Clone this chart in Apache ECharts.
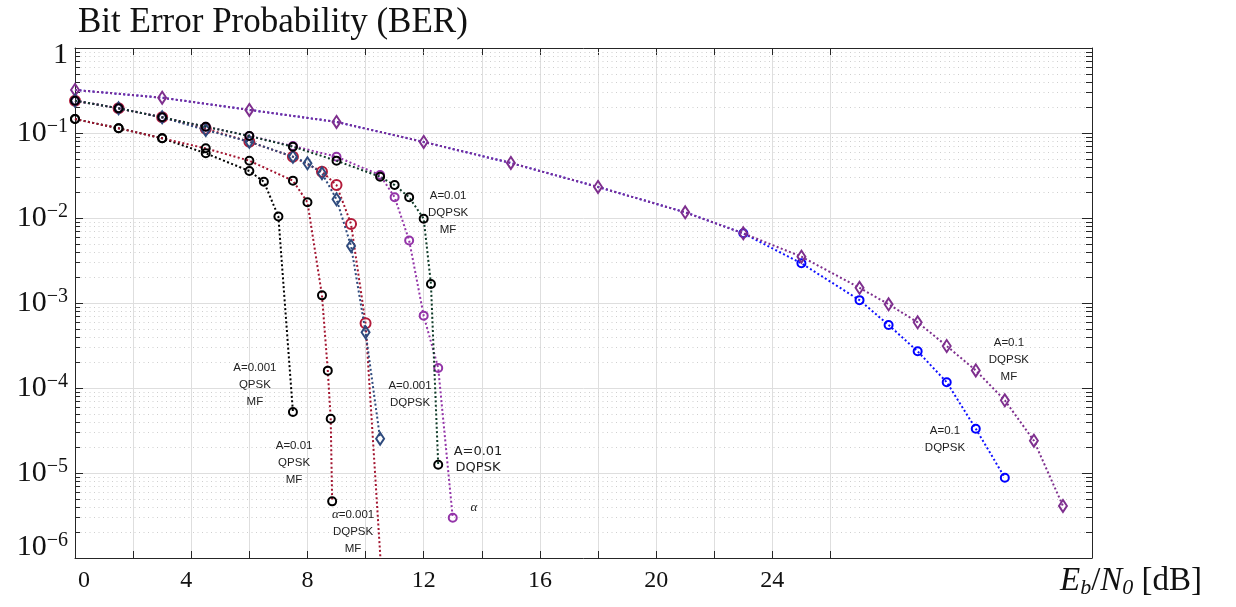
<!DOCTYPE html>
<html>
<head>
<meta charset="utf-8">
<script src="https://cdn.jsdelivr.net/npm/echarts@6/dist/echarts.min.js"></script>
<style>
  html, body { margin: 0; padding: 0; background: #ffffff; }
  #chart { width: 1236px; height: 607px; }
</style>
</head>
<body>
<div id="chart"></div>
<script>
// ---- Eb/N0 sample points [dB] and bit error probabilities per curve ----
const ebn0QpskA001 = [0, 1.5, 3, 4.5, 6, 6.5, 7, 7.5];
const berQpskA001  = [0.146, 0.1136, 0.0866, 0.0577, 0.0357, 0.0267, 0.0104, 5.22e-5];

const ebn0QpskA01 = [0, 1.5, 3, 4.5, 6, 7.5, 8, 8.5, 8.7, 8.8, 8.85];
const berQpskA01  = [0.146, 0.1136, 0.0866, 0.066, 0.0472, 0.0275, 0.0153, 1.23e-3, 1.6e-4, 4.35e-5, 4.64e-6];

const ebn0DqpskMfA001 = [0, 1.5, 3, 4.5, 6, 7.5, 8.5, 9, 9.5, 10, 10.6];
const berDqpskMfA001  = [0.24, 0.195, 0.153, 0.112, 0.079, 0.0526, 0.0351, 0.0244, 8.5e-3, 5.77e-4, 3.3e-7];

const ebn0DqpskA001 = [0, 1.5, 3, 4.5, 6, 7.5, 8, 8.5, 9, 9.5, 10, 10.5];
const berDqpskA001  = [0.24, 0.195, 0.153, 0.1085, 0.079, 0.0526, 0.044, 0.0336, 0.0166, 4.69e-3, 4.52e-4, 2.53e-5];

const ebn0DqpskMfA01 = [0, 1.5, 3, 4.5, 6, 7.5, 9, 10.5, 11, 11.5, 12, 12.25, 12.5];
const berDqpskMfA01  = [0.24, 0.195, 0.153, 0.1186, 0.0922, 0.069, 0.0472, 0.0306, 0.0244, 0.01753, 0.00981, 1.67e-3, 1.25e-5];

const ebn0DqpskA01 = [0, 1.5, 3, 4.5, 6, 7.5, 9, 10.5, 11, 11.5, 12, 12.5, 13];
const berDqpskA01  = [0.24, 0.195, 0.153, 0.1186, 0.0922, 0.0703, 0.0526, 0.032, 0.01753, 5.44e-3, 7.1e-4, 1.72e-4, 2.98e-6];

const ebn0DqpskMfA1 = [0, 3, 6, 9, 12, 15, 18, 21, 23, 25, 27, 28, 29, 30, 31, 32, 33, 34];
const berDqpskMfA1  = [0.321, 0.26, 0.187, 0.135, 0.0784, 0.0444, 0.0232, 0.01167, 0.0066, 0.00351, 0.00151, 9.66e-4, 5.93e-4, 3.12e-4, 1.61e-4, 7.16e-5, 2.4e-5, 4.1e-6];

const ebn0DqpskA1 = [0, 3, 6, 9, 12, 15, 18, 21, 23, 25, 27, 28, 29, 30, 31, 32];
const berDqpskA1  = [0.321, 0.26, 0.187, 0.135, 0.0784, 0.0444, 0.0232, 0.01167, 0.0066, 2.93e-3, 1.08e-3, 5.51e-4, 2.7e-4, 1.17e-4, 3.32e-5, 8.8e-6];

// ---- axis ticks ----
const xTickValues  = [0, 2, 4, 6, 8, 10, 12, 14, 16, 18, 20, 22, 24, 26];
const xLabelValues = [0, 4, 8, 12, 16, 20, 24];
const yDecades     = [-6, -5, -4, -3, -2, -1, 0];
const yMinorMults  = [2, 3, 4, 5, 6, 7, 8, 9];

// ---- curve annotations: [Eb/N0, BER] anchor and text ----
const annotations = [
  { at: [6.19, 1.08e-4], text: 'A=0.001\nQPSK\nMF' },
  { at: [7.54, 1.31e-5], text: 'A=0.01\nQPSK\nMF' },
  { at: [9.57, 2.02e-6], text: '{g|α}=0.001\nDQPSK\nMF' },
  { at: [11.53, 8.4e-5], text: 'A=0.001\nDQPSK' },
  { at: [13.87, 1.44e-5], text: 'A=0.01\nDQPSK', big: true },
  { at: [13.73, 3.9e-6], text: '{g|α}' },
  { at: [12.84, 0.01145], text: 'A=0.01\nDQPSK\nMF' },
  { at: [32.14, 2.14e-4], text: 'A=0.1\nDQPSK\nMF' },
  { at: [29.94, 2.48e-5], text: 'A=0.1\nDQPSK' }
];

const SERIF = '"Liberation Serif", "DejaVu Serif", serif';
const SANS = '"Liberation Sans", Arial, sans-serif';
const AXIS_COLOR = '#262626';
const GRID_COLOR = '#dedede';
const TEXT_COLOR = '#111111';

const minorValues = [];
yDecades.slice(0, -1).forEach(d => yMinorMults.forEach(m => minorValues.push(m * Math.pow(10, d))));

function pairs(xs, ys) { return xs.map((x, i) => [x, ys[i]]); }

function curve(name, xs, ys, opts) {
  const data = pairs(xs, ys).map((p, i) => {
    if (opts.markerFrom !== undefined && i < opts.markerFrom) {
      return { value: p, symbolSize: 0 };
    }
    return p;
  });
  return {
    name: name,
    type: 'line',
    data: data,
    z: opts.z || 5,
    symbol: opts.symbol || 'circle',
    symbolSize: opts.size || 8,
    showAllSymbol: true,
    clip: true,
    lineStyle: { color: opts.line, width: 2, type: [2, 2.4] },
    itemStyle: { color: 'rgba(255,255,255,0)', borderColor: opts.marker, borderWidth: 2 },
    emphasis: { disabled: true },
    animation: false
  };
}

const chart = echarts.init(document.getElementById('chart'), null, { renderer: 'canvas' });

// decade labels: 1, 10^-1 ... 10^-6 (outer ones nudged inwards)
const tickFormatterY = v => {
  const e = Math.round(Math.log10(v));
  if (e === 0) return '{sp| }\n{b|1}';
  const txt = '{b|10}{s|−' + (-e) + '}';
  if (e === -6) return txt + '\n{sp2| }';
  return txt;
};

const tickFormatterX = v => {
  if (v === 0) return '{z|0}';
  if (v === 4) return '{f|4}';
  return '{n|' + v + '}';
};

const option = {
  backgroundColor: '#ffffff',
  animation: false,
  title: {
    text: 'Bit Error Probability (BER)',
    left: 73,
    top: 0,
    textStyle: { fontFamily: SERIF, fontWeight: 'normal', fontSize: 35, color: TEXT_COLOR }
  },
  grid: { left: 75, right: 144, top: 48, bottom: 49, containLabel: false },
  xAxis: [
    {
      type: 'value', min: 0, max: 35,
      name: '{i|E}{sub|b}{n|/}{i|N}{sub|0}{n| [dB]}',
      nameLocation: 'end',
      nameGap: -32,
      nameTextStyle: {
        padding: [46, 0, 0, 0],
        rich: {
          i: { fontFamily: SERIF, fontStyle: 'italic', fontSize: 33, color: TEXT_COLOR, lineHeight: 35 },
          n: { fontFamily: SERIF, fontSize: 33, color: TEXT_COLOR, lineHeight: 35 },
          sub: { fontFamily: SERIF, fontStyle: 'italic', fontSize: 22, color: TEXT_COLOR, lineHeight: 35, padding: [14, 0, 0, 0] }
        }
      },
      axisLine: { show: true, onZero: false, lineStyle: { color: AXIS_COLOR, width: 1 } },
      axisTick: { show: true, inside: true, length: 7, customValues: xTickValues, lineStyle: { color: AXIS_COLOR } },
      axisLabel: {
        customValues: xLabelValues,
        margin: 10,
        formatter: tickFormatterX,
        rich: {
          n: { fontFamily: SERIF, fontSize: 24, color: TEXT_COLOR, lineHeight: 26 },
          z: { fontFamily: SERIF, fontSize: 24, color: TEXT_COLOR, lineHeight: 26, padding: [0, 0, 0, 18] },
          f: { fontFamily: SERIF, fontSize: 24, color: TEXT_COLOR, lineHeight: 26, padding: [0, 10, 0, 0] }
        }
      },
      splitLine: { show: true, lineStyle: { color: GRID_COLOR, width: 1 } }
    },
    {
      type: 'value', min: 0, max: 35, position: 'top',
      axisLine: { show: true, onZero: false, lineStyle: { color: AXIS_COLOR, width: 1 } },
      axisTick: { show: true, inside: true, length: 7, customValues: xTickValues, lineStyle: { color: AXIS_COLOR } },
      axisLabel: { show: false },
      splitLine: { show: false }
    }
  ],
  yAxis: [
    {
      type: 'log', logBase: 10, min: 1e-6, max: 1,
      axisLine: { show: true, onZero: false, lineStyle: { color: AXIS_COLOR, width: 1 } },
      axisTick: { show: true, inside: true, length: 8, lineStyle: { color: AXIS_COLOR } },
      axisLabel: {
        margin: 7,
        formatter: tickFormatterY,
        rich: {
          b: { fontFamily: SERIF, fontSize: 30, color: TEXT_COLOR, lineHeight: 32 },
          s: { fontFamily: SERIF, fontSize: 20, color: TEXT_COLOR, lineHeight: 20, verticalAlign: 'top' },
          sp: { fontSize: 6, lineHeight: 14 },
          sp2: { fontSize: 6, lineHeight: 22 }
        }
      },
      splitLine: { show: true, lineStyle: { color: GRID_COLOR, width: 1 } }
    },
    {
      type: 'log', logBase: 10, min: 1e-6, max: 1, position: 'right',
      axisLine: { show: true, onZero: false, lineStyle: { color: AXIS_COLOR, width: 1 } },
      axisTick: { show: true, inside: true, length: 10, lineStyle: { color: AXIS_COLOR } },
      axisLabel: { show: false },
      splitLine: { show: false }
    }
  ],
  series: [
    // minor decade grid (dotted) with short ticks on both sides
    {
      type: 'custom',
      z: 1,
      silent: true,
      data: minorValues.map(v => [0, v]),
      encode: { x: 0, y: 1 },
      renderItem: (params, api) => {
        const cs = params.coordSys;
        const y = Math.round(api.coord([0, api.value(1)])[1]) + 0.5;
        return {
          type: 'group',
          children: [
            { type: 'line', shape: { x1: cs.x + 1, y1: y, x2: cs.x + cs.width - 1, y2: y },
              style: { stroke: '#cfcfcf', lineWidth: 1, lineDash: [1, 3.5] } },
            { type: 'line', shape: { x1: cs.x, y1: y, x2: cs.x + 5, y2: y },
              style: { stroke: AXIS_COLOR, lineWidth: 1 } },
            { type: 'line', shape: { x1: cs.x + cs.width - 6, y1: y, x2: cs.x + cs.width, y2: y },
              style: { stroke: AXIS_COLOR, lineWidth: 1 } }
          ]
        };
      }
    },
    curve('A=0.1 DQPSK', ebn0DqpskA1, berDqpskA1, { line: '#1010ff', marker: '#0000ff', markerFrom: 8, z: 4 }),
    curve('A=0.1 DQPSK MF', ebn0DqpskMfA1, berDqpskMfA1, { line: '#7e2f8e', marker: '#7e2f8e', symbol: 'diamond', size: [8, 12], z: 6 }),
    curve('A=0.001 QPSK MF', ebn0QpskA001, berQpskA001, { line: '#000000', marker: '#000000', z: 7 }),
    curve('A=0.01 QPSK MF', ebn0QpskA01, berQpskA01, { line: '#a2142f', marker: '#000000', z: 7 }),
    curve('α=0.001 DQPSK MF', ebn0DqpskMfA001, berDqpskMfA001, { line: '#a2142f', marker: '#b31b3a', size: 10, z: 6 }),
    curve('A=0.001 DQPSK', ebn0DqpskA001, berDqpskA001, { line: '#2e4a7d', marker: '#2e4a7d', symbol: 'diamond', size: [8, 12], z: 7 }),
    curve('A=0.01 DQPSK', ebn0DqpskA01, berDqpskA01, { line: '#9334a8', marker: '#9334a8', z: 7 }),
    curve('A=0.01 DQPSK MF', ebn0DqpskMfA01, berDqpskMfA01, { line: '#0f3b28', marker: '#000000', z: 8 })
  ]
};

chart.setOption(option);

// place curve annotations at their data anchors
const graphics = annotations.map(a => {
  const p = chart.convertToPixel({ xAxisIndex: 0, yAxisIndex: 0 }, a.at);
  return {
    type: 'text',
    x: p[0],
    y: p[1],
    z: 20,
    silent: true,
    style: {
      text: a.text,
      fill: '#222222',
      font: a.big ? '13px "DejaVu Sans", sans-serif' : '11.5px ' + SANS,
      lineHeight: a.big ? 16 : 17,
      align: 'center',
      verticalAlign: 'middle',
      rich: {
        g: { fontFamily: SERIF, fontStyle: 'italic', fontSize: 13, fill: '#222222' }
      }
    }
  };
});
chart.setOption({ graphic: graphics });
</script>
</body>
</html>
